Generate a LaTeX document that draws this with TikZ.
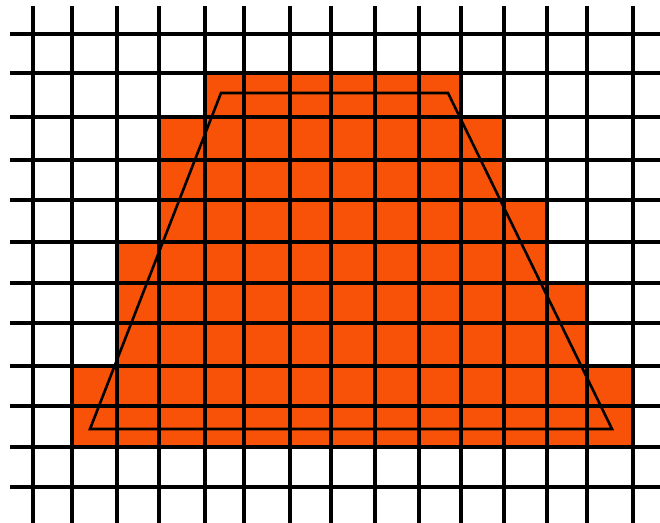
\documentclass[tikz,border=0pt]{standalone}
\definecolor{fillor}{RGB}{247,82,8}
\begin{document}
\begin{tikzpicture}[x=1pt,y=-1pt,
  gridline/.style={line width=4.6pt,black},
  trap/.style={line width=2.6pt,black,line join=miter}]
\useasboundingbox (0,0) rectangle (660,522);
\fill[white] (0,0) rectangle (660,522);
% staircase fill
\fill[fillor] (205,73) -- (461,73) -- (461,117) -- (504,117) -- (504,200) -- (547,200)
  -- (547,283) -- (587,283) -- (587,366) -- (633,366) -- (633,447) -- (72,447)
  -- (72,366) -- (117,366) -- (117,242) -- (159,242) -- (159,117) -- (205,117) -- cycle;
% grid
\foreach \gx in {33,72,117,159,205,244,290,331,375,419,461,504,547,587,633}
  \draw[gridline] (\gx,6) -- (\gx,530);
\foreach \gy in {34,73,117,160,200,242,283,323,366,406,447,487}
  \draw[gridline] (10,\gy) -- (670,\gy);
% trapezoid
\coordinate (a) at (90,429);
\coordinate (b) at (612,429);
\coordinate (c) at (448,93);
\coordinate (d) at (221,93);
\draw[trap] (a) -- (b) -- (c) -- (d) -- cycle;
\end{tikzpicture}
\end{document}
